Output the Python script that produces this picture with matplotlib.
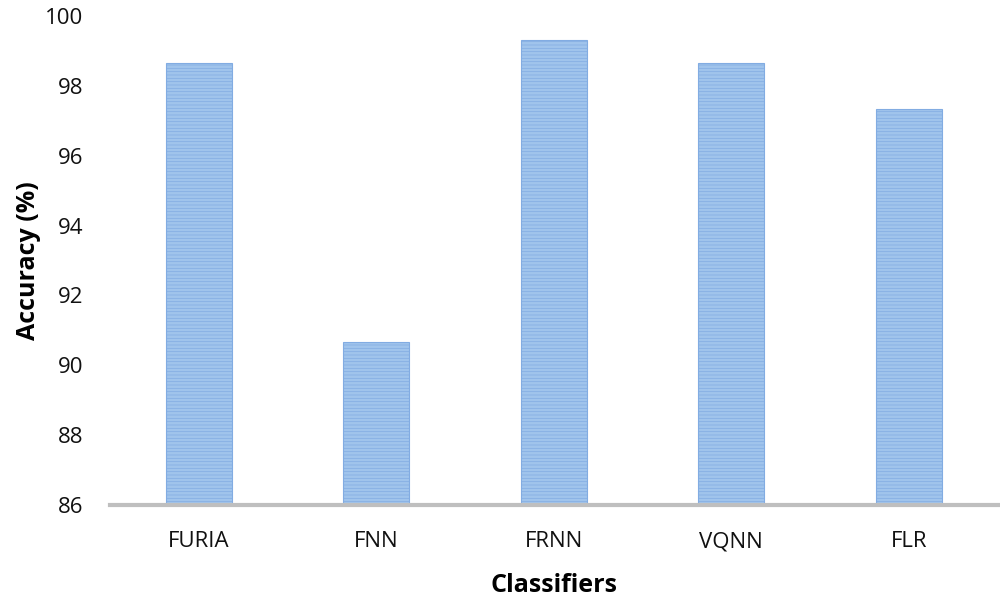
import numpy as np
import matplotlib.pyplot as plt

plt.rcParams['hatch.color'] = '#6b9fdc'
plt.rcParams['hatch.linewidth'] = 0.5

# Data
classifiers = ['FURIA', 'FNN', 'FRNN', 'VQNN', 'FLR']
accuracy = [98.67, 90.67, 99.33, 98.67, 97.33]
y_ticks = [86, 88, 90, 92, 94, 96, 98, 100]

fig = plt.figure(figsize=(10, 5.99), dpi=100)
ax = fig.add_axes([0.11, 0.157, 0.8875, 0.816])

x = np.arange(len(classifiers))
ax.bar(x, accuracy, width=0.37, bottom=0, color='#a0c4ec', edgecolor='#82ace2',
       linewidth=0.8, hatch='-----', zorder=2)

ax.set_ylim(86, 100)
ax.set_xlim(-0.5, len(classifiers) - 0.5)
ax.set_yticks(y_ticks)
ax.set_xticks(x)
ax.set_xticklabels(classifiers)

for s in ['top', 'right', 'left']:
    ax.spines[s].set_visible(False)
ax.spines['bottom'].set_color('#bfbfbf')
ax.spines['bottom'].set_linewidth(3)
ax.spines['bottom'].set_zorder(3)
ax.tick_params(axis='both', length=0, labelsize=16, labelcolor='#111111')
ax.tick_params(axis='x', pad=19)
ax.tick_params(axis='y', pad=19)
for lab in ax.get_xticklabels() + ax.get_yticklabels():
    lab.set_fontfamily('Open Sans')

ax.set_xlabel('Classifiers', fontsize=18, fontweight='bold', family='Open Sans', labelpad=15)
ax.set_ylabel('Accuracy (%)', fontsize=18, fontweight='bold', family='Open Sans', labelpad=3)

fig.savefig('out.png', dpi=100)
